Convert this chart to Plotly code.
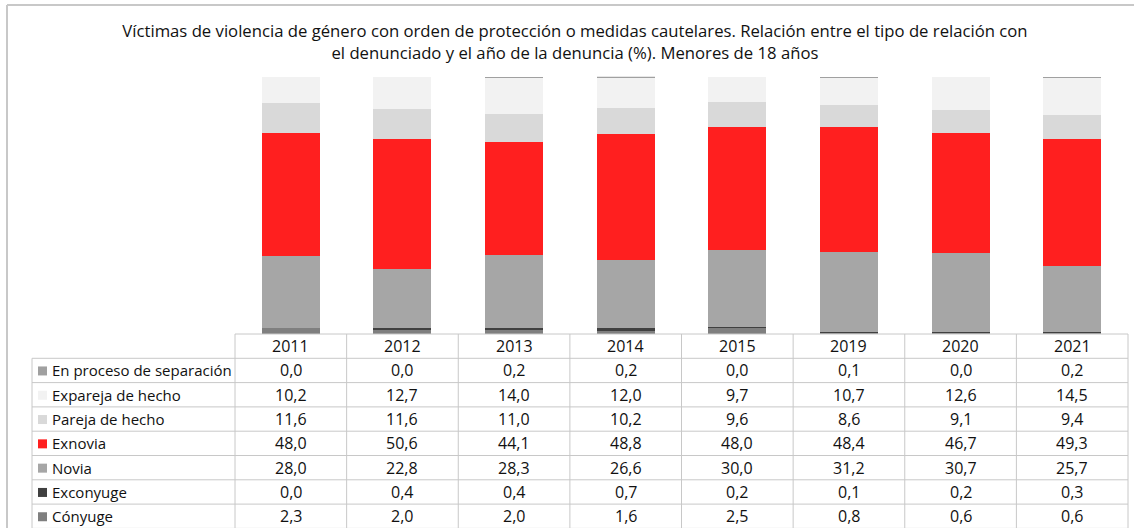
import plotly.graph_objects as go

W, H = 1134, 528

years = ["2011", "2012", "2013", "2014", "2015", "2019", "2020", "2021"]

# series listed bottom-of-stack first
conyuge = [2.3, 2.0, 2.0, 1.6, 2.5, 0.8, 0.6, 0.6]
exconyuge = [0.0, 0.4, 0.4, 0.7, 0.2, 0.1, 0.2, 0.3]
novia = [28.0, 22.8, 28.3, 26.6, 30.0, 31.2, 30.7, 25.7]
exnovia = [48.0, 50.6, 44.1, 48.8, 48.0, 48.4, 46.7, 49.3]
pareja_hecho = [11.6, 11.6, 11.0, 10.2, 9.6, 8.6, 9.1, 9.4]
expareja_hecho = [10.2, 12.7, 14.0, 12.0, 9.7, 10.7, 12.6, 14.5]
en_proceso = [0.0, 0.0, 0.2, 0.2, 0.0, 0.1, 0.0, 0.2]

series = [
    ("Cónyuge", conyuge, "#7f7f7f"),
    ("Exconyuge", exconyuge, "#404040"),
    ("Novia", novia, "#a6a6a6"),
    ("Exnovia", exnovia, "#ff1f1f"),
    ("Pareja de hecho", pareja_hecho, "#d9d9d9"),
    ("Expareja de hecho", expareja_hecho, "#f2f2f2"),
    ("En proceso de separación", en_proceso, "#a0a0a0"),
]

title_text = ("Víctimas de violencia de género con orden de protección o medidas cautelares. "
              "Relación entre el tipo de relación con<br>el denunciado y el año de la denuncia (%). "
              "Menores de 18 años")

FONT = "Open Sans"

def px(x):
    return x / W

def py(y):
    return 1 - y / H

fig = go.Figure()
for name, vals, col in series:
    fig.add_trace(go.Bar(x=years, y=vals, name=name, marker=dict(color=col, line=dict(width=0)),
                         width=0.52, showlegend=False, hoverinfo="x+y+name"))

x0, x1 = 235, 1128
lab_x0 = 32
y_top_bar, y_base = 76.8, 334
bounds = [y_base + 24.3 * i for i in range(9)]

shapes = []
grid = dict(color="#c8c8c8", width=1)
# outer border
shapes.append(dict(type="line", xref="paper", yref="paper", x0=px(7), x1=px(7), y0=py(H + 5), y1=py(5),
                   line=dict(color="#c8c8c8", width=2)))
shapes.append(dict(type="line", xref="paper", yref="paper", x0=px(7), x1=px(W + 5), y0=py(5), y1=py(5),
                   line=dict(color="#c8c8c8", width=2)))
# horizontal lines
shapes.append(dict(type="line", xref="paper", yref="paper", x0=px(x0), x1=px(x1), y0=py(bounds[0]), y1=py(bounds[0]), line=grid))
for b in bounds[1:]:
    shapes.append(dict(type="line", xref="paper", yref="paper", x0=px(lab_x0), x1=px(x1), y0=py(b), y1=py(b), line=grid))
# vertical lines
shapes.append(dict(type="line", xref="paper", yref="paper", x0=px(lab_x0), x1=px(lab_x0), y0=py(bounds[1]), y1=py(H + 5), line=grid))
colw = (x1 - x0) / len(years)
for i in range(len(years) + 1):
    xx = x0 + i * colw
    shapes.append(dict(type="line", xref="paper", yref="paper", x0=px(xx), x1=px(xx), y0=py(bounds[0]), y1=py(H + 5), line=grid))

annotations = []
# header years
for i, yr in enumerate(years):
    annotations.append(dict(x=i, xref="x", y=py((bounds[0] + bounds[1]) / 2), yref="paper", text=yr,
                            showarrow=False, font=dict(family=FONT, size=16, color="#111111"),
                            xanchor="center", yanchor="middle"))
# table rows (top row = top of stack)
for r, (name, vals, col) in enumerate(reversed(series)):
    yc = (bounds[r + 1] + bounds[r + 2]) / 2
    shapes.append(dict(type="rect", xref="paper", yref="paper", x0=px(38), x1=px(47), y0=py(yc + 5), y1=py(yc - 4),
                       fillcolor=col, line=dict(width=0)))
    annotations.append(dict(x=px(50), xref="paper", y=py(yc), yref="paper", text=name, showarrow=False,
                            font=dict(family=FONT, size=15, color="#111111"), xanchor="left", yanchor="middle"))
    for i, v in enumerate(vals):
        annotations.append(dict(x=i, xref="x", y=py(yc), yref="paper", text=f"{v:.1f}".replace(".", ","),
                                showarrow=False, font=dict(family=FONT, size=16, color="#111111"),
                                xanchor="center", yanchor="middle"))

fig.update_layout(
    width=W, height=H,
    margin=dict(l=0, r=0, t=0, b=0),
    paper_bgcolor="white", plot_bgcolor="white",
    barmode="stack", bargap=0,
    title=dict(text=title_text, x=0.507, xanchor="center", y=py(37), yanchor="middle",
               font=dict(family=FONT, size=16.7, color="#111111")),
    xaxis=dict(domain=[px(x0), px(x1)], range=[-0.5, len(years) - 0.5], showticklabels=False,
               showgrid=False, zeroline=False, showline=False, ticks="", type="category"),
    yaxis=dict(domain=[py(y_base), py(y_top_bar)], range=[0, 100], showticklabels=False,
               showgrid=False, zeroline=False, showline=False, ticks=""),
    shapes=shapes,
    annotations=annotations,
)

fig.write_html("out.html", config={"displayModeBar": False},
               post_script="document.body.style.margin='0px';document.body.style.overflow='hidden';")
